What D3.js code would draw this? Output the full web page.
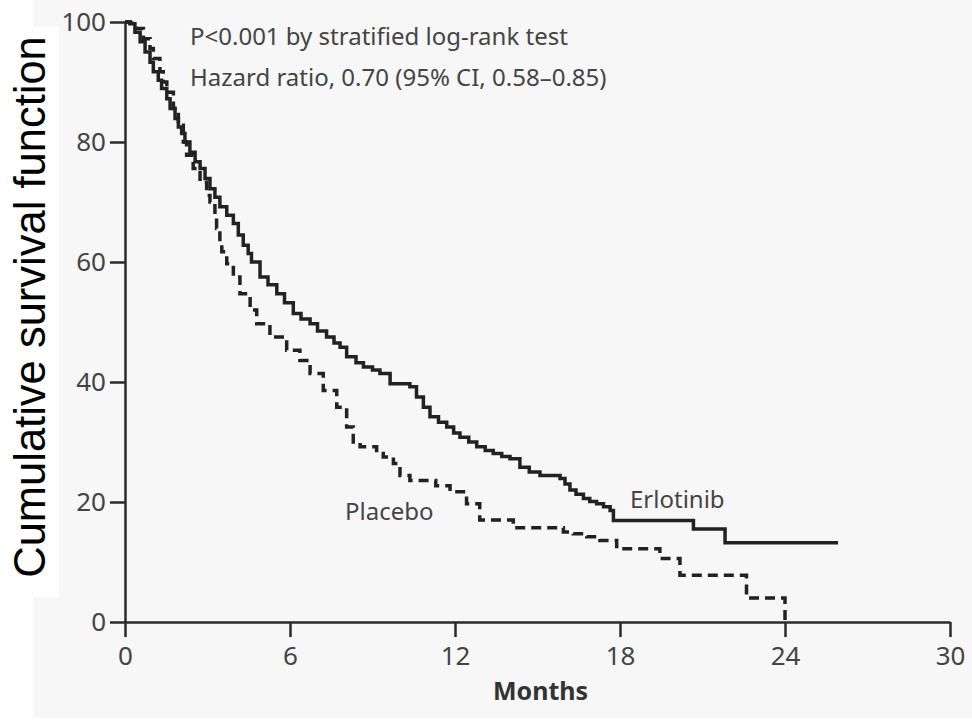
<!DOCTYPE html>
<html>
<head>
<meta charset="utf-8">
<script src="https://cdn.jsdelivr.net/npm/d3@7"></script>
<style>
  body { margin: 0; background: #fff; }
  svg { display: block; }
</style>
</head>
<body>
<div id="vis"></div>
<script>
const WIDTH = 972;
const HEIGHT = 728;
const MARG = {left: 125, right: 22, top: 22, bottom: 106};

// Kaplan-Meier step points (months, % surviving)
const erloTimes = [0, 0.18, 0.36, 0.55, 0.73, 0.91, 1.03, 1.21, 1.33, 1.52, 1.64, 1.82, 1.94, 2.06, 2.18, 2.36,
  2.55, 2.73, 2.91, 3.09, 3.27, 3.45, 3.7, 3.94, 4.12, 4.3, 4.48, 4.6, 4.91, 5.2, 5.52, 5.8, 6.12, 6.4, 6.73,
  7.0, 7.33, 7.6, 7.82, 8.06, 8.4, 8.67, 9.0, 9.27, 9.64, 10.36, 10.6, 10.85, 11.09, 11.4, 11.7, 11.95,
  12.18, 12.5, 12.79, 13.1, 13.39, 13.7, 14.0, 14.36, 14.7, 15.09, 15.82, 16.0, 16.18, 16.4, 16.67, 16.9,
  17.15, 17.4, 17.64, 17.76, 20.67, 21.82, 25.93];
const erloValues = [100, 99.7, 98.3, 96.7, 95.0, 93.3, 91.7, 90.3, 88.9, 87.2, 85.6, 83.9, 82.5, 81.4, 80.0, 78.3,
  76.7, 75.6, 73.9, 72.2, 70.8, 69.2, 67.8, 66.4, 64.5, 62.8, 61.4, 60.0, 57.5, 56.2, 54.7, 53.2, 51.4, 50.5, 49.7,
  48.5, 47.5, 46.5, 45.8, 44.2, 43.2, 42.5, 42.0, 41.4, 39.7, 39.2, 37.5, 35.8, 34.2, 33.3, 32.5, 31.5,
  30.8, 30.0, 29.2, 28.6, 28.1, 27.6, 27.2, 25.8, 25.0, 24.4, 23.9, 23.0, 22.0, 21.3, 20.6, 20.1,
  19.7, 19.2, 18.6, 16.9, 15.5, 13.2, 13.2];

const placTimes = [0, 0.2, 0.42, 0.67, 0.91, 1.03, 1.27, 1.39, 1.52, 1.76, 1.94, 2.12, 2.24, 2.48, 2.73, 2.97,
  3.09, 3.27, 3.33, 3.45, 3.52, 3.7, 3.94, 4.18, 4.55, 4.79, 5.27, 5.88, 6.36, 6.73, 7.21, 7.7, 8.06, 8.3,
  8.55, 9.15, 9.39, 9.76, 10.0, 10.36, 11.3, 11.82, 12.42, 12.9, 14.12, 15.94, 16.3, 16.79, 17.27, 17.88,
  19.45, 20.18, 22.6, 24.0];
const placValues = [100, 99.8, 98.9, 97.2, 95.6, 93.9, 91.7, 90.0, 88.3, 85.6, 82.8, 80.0, 77.8, 75.6, 73.3, 71.1,
  70.0, 67.8, 65.6, 63.3, 61.7, 59.7, 57.5, 54.7, 52.0, 49.7, 47.5, 45.3, 43.6, 41.4, 38.6, 35.8, 32.5, 30.0,
  29.2, 28.1, 27.5, 26.4, 24.4, 23.6, 22.7, 21.7, 19.7, 17.0, 15.7, 15.0, 14.7, 14.2, 13.6, 12.2,
  10.6, 7.8, 4.0, 0];

const xTicks = [0, 6, 12, 18, 24, 30];
const yTicks = [0, 20, 40, 60, 80, 100];

const VIS_WIDTH = WIDTH - MARG.left - MARG.right;
const VIS_HEIGHT = HEIGHT - MARG.top - MARG.bottom;

const FONT = "'Noto Sans', 'Open Sans', sans-serif";

const svg = d3.select("#vis").append("svg")
    .attr("width", WIDTH)
    .attr("height", HEIGHT);

// panel background, with the white patch behind the y title
svg.append("rect").attr("x", 33).attr("y", 0).attr("width", WIDTH - 33).attr("height", 718).attr("fill", "#f7f7f7");
svg.append("rect").attr("x", 0).attr("y", 27).attr("width", 59).attr("height", 570).attr("fill", "#fff");

svg.append("text")
    .attr("transform", "translate(45,307) rotate(-90)")
    .attr("text-anchor", "middle")
    .style("font-family", "'Liberation Sans', Arial, sans-serif")
    .style("font-size", "43.5px")
    .attr("fill", "#000")
    .text("Cumulative survival function");

const X_SCALE = d3.scaleLinear().domain([0, 30]).range([0, VIS_WIDTH]);
const Y_SCALE = d3.scaleLinear().domain([0, 100]).range([VIS_HEIGHT, 0]);

const g = svg.append("g").attr("transform", "translate(" + MARG.left + "," + MARG.top + ")");

const xAxis = g.append("g")
    .attr("transform", "translate(0," + VIS_HEIGHT + ")")
    .call(d3.axisBottom(X_SCALE).tickValues(xTicks).tickSize(15).tickSizeOuter(0).tickPadding(10));

const yAxis = g.append("g")
    .call(d3.axisLeft(Y_SCALE).tickValues(yTicks).tickSize(15).tickSizeOuter(0).tickPadding(4));

[xAxis, yAxis].forEach(a => {
    a.select(".domain").attr("stroke", "#2b2b2b").attr("stroke-width", 2.5);
    a.selectAll(".tick line").attr("stroke", "#2b2b2b").attr("stroke-width", 2.5);
    a.selectAll(".tick text")
        .style("font-family", FONT)
        .style("font-size", "26px")
        .attr("fill", "#444");
});

const line = d3.line()
    .x(d => X_SCALE(d[0]))
    .y(d => Y_SCALE(d[1]))
    .curve(d3.curveStepAfter);

const erlo = erloTimes.map((t, i) => [t, erloValues[i]]);
const plac = placTimes.map((t, i) => [t, placValues[i]]);

g.append("path")
    .datum(plac)
    .attr("d", line)
    .attr("fill", "none")
    .attr("stroke", "#222")
    .attr("stroke-width", 3.5)
    .attr("stroke-dasharray", "10,6");

g.append("path")
    .datum(erlo)
    .attr("d", line)
    .attr("fill", "none")
    .attr("stroke", "#222")
    .attr("stroke-width", 3.5);

function note(x, y, txt) {
    svg.append("text")
        .attr("x", x).attr("y", y)
        .style("font-family", FONT)
        .style("font-size", "24px")
        .attr("fill", "#444")
        .text(txt);
}

note(190, 45, "P<0.001 by stratified log-rank test");
note(190, 86, "Hazard ratio, 0.70 (95% CI, 0.58\u20130.85)");
note(345, 520, "Placebo");
note(630, 508, "Erlotinib");

svg.append("text")
    .attr("x", MARG.left + X_SCALE(15) + 3).attr("y", 700)
    .attr("text-anchor", "middle")
    .style("font-family", FONT)
    .style("font-size", "25px")
    .style("font-weight", "bold")
    .attr("fill", "#333")
    .text("Months");
</script>
</body>
</html>
